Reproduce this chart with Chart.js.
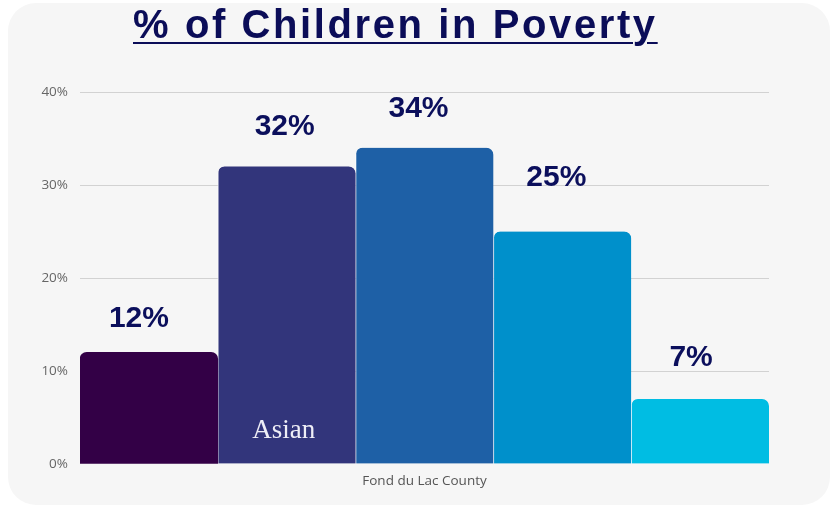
<!DOCTYPE html>
<html>
<head>
<meta charset="utf-8">
<script src="https://cdn.jsdelivr.net/npm/chart.js@4/dist/chart.umd.min.js"></script>
<style>
    body { margin: 0; background: #ffffff; }
    #wrap { position: relative; width: 835px; height: 507px; overflow: hidden; }
    #card {
        position: absolute; left: 8px; top: 3px; width: 822px; height: 502px;
        background: #f6f6f6; border-radius: 28px;
    }
    #title {
        position: absolute; left: 133px; top: 5px; margin: 0;
        font: bold 40px "Liberation Sans", Arial, sans-serif; line-height: 39px;
        letter-spacing: 2.6px; color: #0b0d58; white-space: nowrap;
        text-decoration: underline; text-decoration-thickness: 2px; text-underline-offset: 4px;
    }
    #chartBox { position: absolute; left: 0; top: 0; width: 835px; height: 507px; }
</style>
</head>
<body>
<div id="wrap">
    <div id="card"></div>
    <div id="chartBox"><canvas id="povertyChart"></canvas></div>
    <h1 id="title">% of Children in Poverty</h1>
</div>
<script>
// data
const categories = ['Fond du Lac County'];
const groupNames = ['', 'Asian', '', '', ''];
const povertyRates = [12, 32, 34, 25, 7];
const yTicks = [0, 10, 20, 30, 40];

// one colour per bar, left to right
const barColors = ['#330046', '#32357b', '#1e60a6', '#0090cb', '#00bde3'];
// where each value label sits: [dx, gap above bar top]
const labelShift = [[-10, 25], [-2, 31], [-6, 31], [-6, 46], [-9, 33]];

document.addEventListener("DOMContentLoaded", function () {
    const datasets = povertyRates.map((v, i) => ({
        label: groupNames[i] || ('Group ' + (i + 1)),
        data: [v],
        backgroundColor: barColors[i],
        borderColor: 'rgba(255, 255, 255, 0.85)',
        borderWidth: i === 0 ? 0 : { left: 1, right: 0, top: 0, bottom: 0 },
        borderSkipped: 'start',
        borderRadius: { topLeft: 7, topRight: 7, bottomLeft: 0, bottomRight: 0 },
        categoryPercentage: 1,
        barPercentage: 1
    }));

    // value labels above bars + group name inside bar
    const barLabels = {
        id: 'barLabels',
        afterDatasetsDraw(chart) {
            const ctx = chart.ctx;
            const zeroY = chart.scales.y.getPixelForValue(0);
            ctx.save();
            chart.data.datasets.forEach((ds, i) => {
                const bar = chart.getDatasetMeta(i).data[0];
                ctx.font = 'bold 30px "Liberation Sans", Arial, sans-serif';
                ctx.fillStyle = '#0b0f5c';
                ctx.textAlign = 'center';
                ctx.textBaseline = 'alphabetic';
                ctx.fillText(ds.data[0] + '%', bar.x + labelShift[i][0], bar.y - labelShift[i][1]);
                if (groupNames[i]) {
                    ctx.font = '27px "Liberation Serif", serif';
                    ctx.fillStyle = '#eeeef6';
                    ctx.fillText(groupNames[i], bar.x - 3, zeroY - 26);
                }
            });
            ctx.restore();
        }
    };

    new Chart(document.getElementById('povertyChart').getContext('2d'), {
        type: 'bar',
        data: { labels: categories, datasets: datasets },
        options: {
            responsive: true,
            maintainAspectRatio: false,
            animation: false,
            layout: { padding: { top: 92, right: 66, bottom: 0, left: 0 } },
            plugins: {
                legend: { display: false },
                title: { display: false },
                tooltip: { enabled: false }
            },
            scales: {
                x: {
                    grid: { display: false, drawTicks: false },
                    border: { display: false },
                    ticks: {
                        padding: 9,
                        color: '#555555',
                        font: { family: '"Open Sans", sans-serif', size: 13.5 }
                    },
                    afterFit: (scale) => { scale.height = 43; }
                },
                y: {
                    min: yTicks[0],
                    max: yTicks[yTicks.length - 1],
                    afterBuildTicks: (scale) => { scale.ticks = yTicks.map(v => ({ value: v })); },
                    grid: {
                        color: (c) => c.tick && c.tick.value === 0 ? 'rgba(0,0,0,0)' : '#d2d2d2',
                        lineWidth: 1,
                        drawTicks: false
                    },
                    border: { display: false },
                    ticks: {
                        padding: 12,
                        color: '#666666',
                        font: { family: '"Open Sans", sans-serif', size: 13.5 },
                        callback: (v) => v + '%'
                    },
                    afterFit: (scale) => { scale.width = 80; }
                }
            }
        },
        plugins: [barLabels]
    });
});
</script>
</body>
</html>
